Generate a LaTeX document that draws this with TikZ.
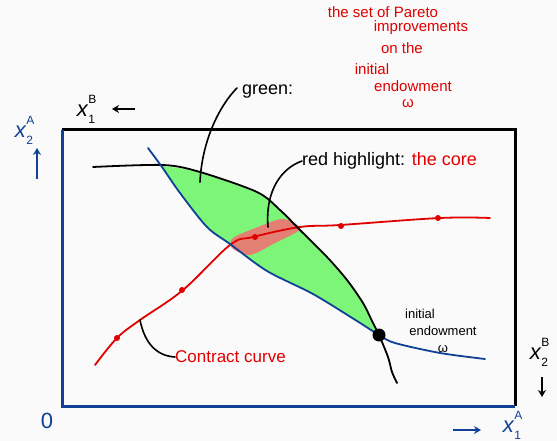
\documentclass[tikz,border=0pt]{standalone}
\usepackage{fontspec}
\setmainfont{Liberation Sans}
\usetikzlibrary{arrows.meta}
\definecolor{cblue}{RGB}{15,65,150}
\definecolor{cred}{RGB}{225,0,0}
\definecolor{cgreen}{RGB}{125,245,120}
\definecolor{cband}{RGB}{240,115,115}
\newcommand{\axvar}[2]{\textit{x}\makebox[0pt][l]{\raisebox{0.62em}{\fontsize{12}{12}\selectfont #1}}\raisebox{-0.28em}{\fontsize{12}{12}\selectfont #2}}
\tikzset{
  box/.style={line width=3pt},
  curve/.style={line width=1.8pt, line cap=round, line join=round},
  lead/.style={line width=1.6pt, line cap=round},
  hand/.style={inner sep=0pt, font=\fontsize{18}{20}\selectfont},
  redtxt/.style={inner sep=0pt, text=cred, font=\fontsize{15}{16}\selectfont},
  smalltxt/.style={inner sep=0pt, font=\fontsize{13}{14}\selectfont},
  axlab/.style={inner sep=0pt, font=\fontsize{22}{24}\selectfont},
  axarrow/.style={line width=1.8pt, -{Stealth[length=7pt,width=8pt]}},
  rdot/.style={circle, fill=cred, inner sep=0pt, minimum size=6pt},
}
\begin{document}
\begin{tikzpicture}[x=1pt,y=-1pt]
\useasboundingbox (0,0) rectangle (557,441);
\fill[white!98!black] (0,0) rectangle (557,441);
% box
\coordinate (bl) at (62,406);
\coordinate (tl) at (62,130);
\coordinate (tr) at (515,130);
\coordinate (br) at (515,406);
\draw[box] (tl) -- (tr) -- (br);
\draw[box, cblue] (tl) -- (bl) -- (br);
% green lens
\fill[cgreen] plot[smooth] coordinates {(162,166) (200,172) (257,192) (280,210) (300,230) (327,257) (347,280) (363,303) (373,323) (379,335)}
  -- plot[smooth] coordinates {(379,335) (357,321) (313,294) (267,271) (230,244) (207,227) (180,193) (162,166)} -- cycle;
% red band (the core)
\fill[cband, opacity=0.9] plot[smooth cycle] coordinates {(233,238) (258,227) (283,219) (300,229) (275,243) (250,255) (232,248)};
% red contract curve
\draw[curve, cred] plot[smooth, tension=0.6] coordinates {(95,365) (117,338) (140,320) (183,290) (230,245) (253,237) (300,227) (340,225) (440,218) (490,218)};
\node[rdot] (d1) at (117,338) {};
\node[rdot] (d2) at (182,290) {};
\node[rdot] (d3) at (255,237) {};
\node[rdot] (d4) at (341,226) {};
\node[rdot] (d5) at (438,218) {};
% black indifference curve
\draw[curve] plot[smooth] coordinates {(93,167) (163,165) (200,172) (257,192) (280,210) (300,230) (327,257) (347,280) (363,303) (373,323) (379,335) (388,357) (392,372) (397,383)};
% blue indifference curve
\draw[curve, cblue] plot[smooth] coordinates {(148,148) (162,167) (180,193) (207,227) (230,244) (267,271) (313,294) (357,321) (379,335) (395,343) (440,353) (485,359)};
% endowment
\node[circle, fill=black, inner sep=0pt, minimum size=13pt] (w) at (379,335) {};
% top-right text
\node[redtxt] (t1) at (383,12) {the set of Pareto};
\node[redtxt] (t2) at (421,28) {improvements};
\node[redtxt] (t3) at (402,48) {on the};
\node[redtxt] (t4) at (372,69) {initial};
\node[redtxt] (t5) at (413,86) {endowment};
\node[redtxt] (t6) at (408,104) {ω};
% green label
\node[hand, anchor=west] (gl) at (242,92) {green:};
\coordinate (gtip) at (200,182);
\draw[lead] (237,88) .. controls (220,105) and (202,140) .. (gtip);
% red highlight label
\node[hand, anchor=west] (rh) at (302,161) {red highlight: \textcolor{cred}{the core}};
\coordinate (rtip) at (268,227);
\draw[lead] (rh.west) .. controls (282,168) and (265,190) .. (rtip);
% contract curve label
\node[hand, anchor=west, text=cred, font=\fontsize{17}{19}\selectfont] (cc) at (175,357) {Contract curve};
\coordinate (ctip) at (140,320);
\draw[lead] (ctip) .. controls (145,345) and (158,356) .. (cc.west);
% initial endowment label
\node[smalltxt] (ie1) at (420,314) {initial};
\node[smalltxt] (ie2) at (443,331) {endowment};
\node[smalltxt] (ie3) at (443,349) {ω};
% axis labels
\node[axlab, text=cblue] (x2A) at (24,130) {\axvar{A}{2}};
\coordinate (ua1) at (37,179);
\coordinate (ua2) at (37,148);
\draw[axarrow, cblue] (ua1) -- (ua2);
\node[axlab] (x1B) at (86,109) {\axvar{B}{1}};
\coordinate (la1) at (135,109);
\coordinate (la2) at (112,109);
\draw[axarrow] (la1) -- (la2);
\node[axlab, text=cblue] (zero) at (47,421) {0};
\coordinate (ra1) at (453,430);
\coordinate (ra2) at (481,430);
\draw[axarrow, cblue] (ra1) -- (ra2);
\node[axlab, text=cblue] (x1A) at (512,425) {\axvar{A}{1}};
\node[axlab] (x2B) at (539,352) {\axvar{B}{2}};
\coordinate (da1) at (542,377);
\coordinate (da2) at (542,397);
\draw[axarrow] (da1) -- (da2);
\end{tikzpicture}
\end{document}
